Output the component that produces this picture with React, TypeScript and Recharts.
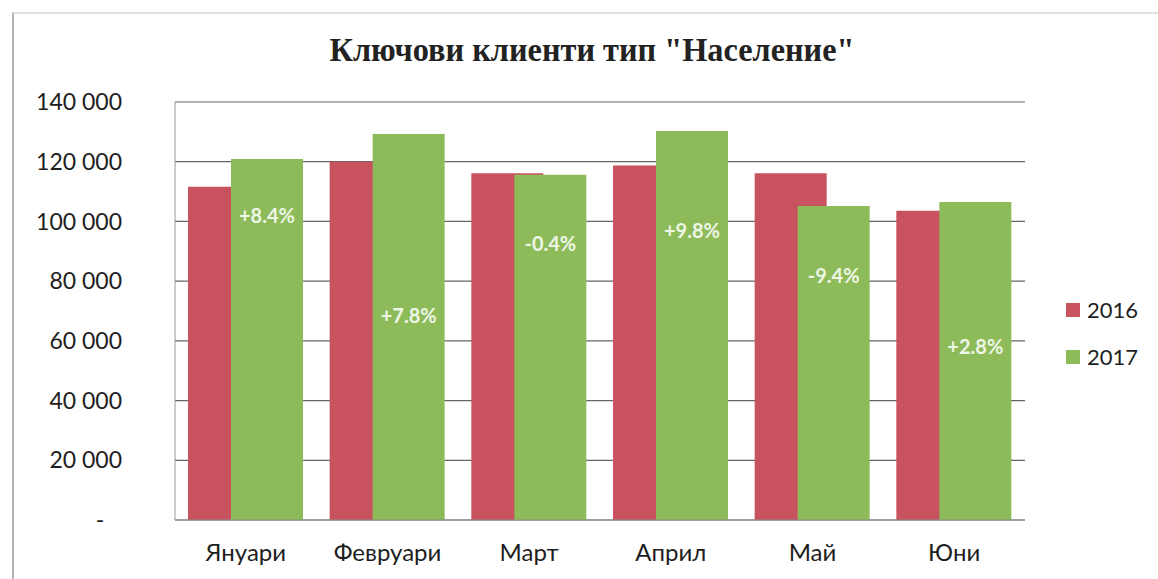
// @ts-nocheck
import React from 'react';
import {
  BarChart, Bar, XAxis, YAxis, CartesianGrid, Legend, LabelList,
} from 'recharts';

const months = ['Януари', 'Февруари', 'Март', 'Април', 'Май', 'Юни'];
const values2016 = [111600, 120000, 116100, 118700, 116100, 103600];
const values2017 = [120900, 129300, 115600, 130300, 105200, 106500];
const changes = ['+8.4%', '+7.8%', '-0.4%', '+9.8%', '-9.4%', '+2.8%'];
const yTicks = [0, 20000, 40000, 60000, 80000, 100000, 120000, 140000];

const RED = '#c8525d';
const GREEN = '#8dbb5a';
const FONT = 'Lato, "Open Sans", sans-serif';

// where the (hand-placed) labels sit, as a share of the green bar height
const labelDepth = [0.155, 0.47, 0.197, 0.255, 0.22, 0.453];

const data = months.map((m, i) => ({
  month: m,
  '2016': values2016[i],
  '2017': values2017[i],
  change: changes[i],
}));

const fmtY = (v: number) =>
  v === 0 ? '-\u00a0\u00a0\u00a0' : String(v).replace(/\B(?=(\d{3})+(?!\d))/g, ' ');

const ChangeLabel = (props: any) => {
  const { x, y, width, height, value, index } = props;
  const cy = y + height * labelDepth[index];
  return (
    <text
      x={x + width / 2}
      y={cy}
      textAnchor="middle"
      dominantBaseline="central"
      fill="#eef6e6"
      fontSize={20}
      fontWeight={700}
      fontFamily={FONT}
    >
      {value}
    </text>
  );
};

const LegendBox = () => (
  <div style={{ fontFamily: FONT, fontSize: 22, color: '#1e1e1e', lineHeight: '47px' }}>
    {[['2016', RED], ['2017', GREEN]].map(([name, c]) => (
      <div key={name} style={{ display: 'flex', alignItems: 'center' }}>
        <span style={{ width: 14, height: 14, background: c, display: 'inline-block', marginRight: 7 }} />
        {name}
      </div>
    ))}
  </div>
);

export default function App() {
  return (
    <div style={{ position: 'absolute', left: 0, top: 0, width: 1158, height: 579, background: '#fff' }}>
      <div
        style={{
          position: 'absolute', left: 12, top: 12, width: 1146, height: 567,
          borderLeft: '2px solid #b4b4b4', borderTop: '2px solid #e0e0e0',
        }}
      />
      <svg style={{ position: 'absolute', left: 0, top: 0 }} width={1158} height={80}>
        <text
          x={592}
          y={61}
          textAnchor="middle"
          fontFamily='"Liberation Serif", "Times New Roman", serif'
          fontWeight={700}
          fontSize={34}
          fill="#222"
          textLength={525}
          lengthAdjust="spacingAndGlyphs"
        >
          Ключови клиенти тип "Население"
        </text>
      </svg>
      <div style={{ position: 'absolute', left: 0, top: 0 }}>
        <BarChart
          width={1158}
          height={579}
          data={data}
          margin={{ top: 102, right: 133, bottom: 0, left: 0 }}
          barSize={72}
          barGap={-29}
        >
          <CartesianGrid vertical={false} stroke="#666" strokeWidth={1.2} />
          <XAxis
            dataKey="month"
            height={59}
            tickLine={false}
            tickSize={0}
            tickMargin={24}
            axisLine={{ stroke: '#8a8a8a' }}
            tick={{ fontSize: 24, fill: '#1e1e1e', fontFamily: FONT }}
          />
          <YAxis
            width={175}
            domain={[0, 140000]}
            ticks={yTicks}
            tickFormatter={fmtY}
            tickLine={false}
            tickSize={0}
            tickMargin={53}
            axisLine={{ stroke: '#9a9a9a' }}
            tick={{ fontSize: 23, fill: '#1e1e1e', fontFamily: FONT }}
          />
          <Legend
            layout="vertical"
            align="center"
            verticalAlign="middle"
            wrapperStyle={{ left: 1066, top: 286, width: 90 }}
            content={<LegendBox />}
          />
          <Bar dataKey="2016" fill={RED} isAnimationActive={false} />
          <Bar dataKey="2017" fill={GREEN} isAnimationActive={false}>
            <LabelList dataKey="change" content={<ChangeLabel />} />
          </Bar>
        </BarChart>
      </div>
    </div>
  );
}
